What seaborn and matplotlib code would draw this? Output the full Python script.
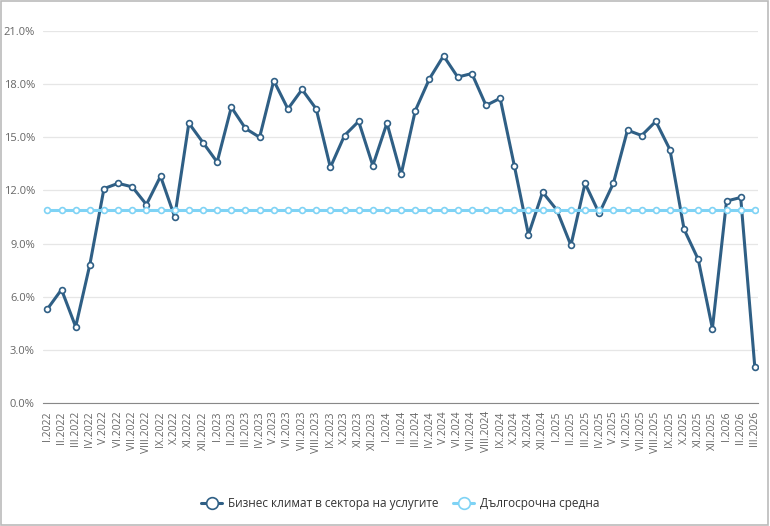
import pandas as pd
import matplotlib.pyplot as plt
import seaborn as sns
from matplotlib.patches import Rectangle

#######################
#
# DATA
#
#######################
MONTHS = ['I', 'II', 'III', 'IV', 'V', 'VI', 'VII', 'VIII', 'IX', 'X', 'XI', 'XII']
YEARS = [2022, 2023, 2024, 2025, 2026]
periods = [f'{m}.{y}' for y in YEARS for m in MONTHS][:51]

services_climate = [5.3, 6.4, 4.3, 7.8, 12.1, 12.4, 12.2, 11.2, 12.8, 10.5, 15.8, 14.7,
                    13.6, 16.7, 15.5, 15.0, 18.2, 16.6, 17.7, 16.6, 13.3, 15.1, 15.9, 13.4,
                    15.8, 12.9, 16.5, 18.3, 19.6, 18.4, 18.6, 16.8, 17.2, 13.4, 9.5, 11.9,
                    10.9, 8.9, 12.4, 10.7, 12.4, 15.4, 15.1, 15.9, 14.3, 9.8, 8.1, 4.2,
                    11.4, 11.6, 2.0]
long_term_avg = [10.9] * len(periods)

SERIES_NAME = 'Бизнес климат в сектора на услугите'
AVG_NAME = 'Дългосрочна средна'
DARK = '#2f5f85'
LIGHT = '#7fd3f5'

#######################
#
# PLOT
#
#######################
sns.set_style('white')
plt.rcParams['font.family'] = ['Open Sans', 'DejaVu Sans']

df = pd.DataFrame({'x': range(len(periods)), 'value': services_climate, 'avg': long_term_avg})

fig = plt.figure(figsize=(7.7, 5.26), dpi=100)
ax = fig.add_axes([0.056, 0.234, 0.928, 0.707])

# dark series first, long term average drawn on top of it
sns.lineplot(data=df, x='x', y='value', ax=ax, color=DARK, linewidth=2.2,
             marker='o', markersize=4.2, markerfacecolor='white',
             markeredgecolor=DARK, markeredgewidth=1.2, label=SERIES_NAME)
sns.lineplot(data=df, x='x', y='avg', ax=ax, color=LIGHT, linewidth=2.2,
             marker='o', markersize=4.2, markerfacecolor='white',
             markeredgecolor=LIGHT, markeredgewidth=1.2, label=AVG_NAME)

ax.set_ylim(0, 21)
ax.set_xlim(-0.3, len(periods) - 0.8)
ax.set_yticks([0, 3, 6, 9, 12, 15, 18, 21])
ax.set_yticklabels([f'{v:.1f}%' for v in [0, 3, 6, 9, 12, 15, 18, 21]], fontsize=8, color='#666666')
ax.set_xticks(range(len(periods)))
ax.set_xticklabels(periods, rotation=90, fontsize=7.5, color='#666666')
ax.tick_params(axis='x', length=4, color='#888888', width=0.8, pad=2)
ax.tick_params(axis='y', length=0, pad=6)
ax.grid(axis='y', color='#e6e6e6', linewidth=0.9)
ax.set_axisbelow(True)
for s in ['top', 'right', 'left']:
    ax.spines[s].set_visible(False)
ax.spines['bottom'].set_color('#888888')
ax.spines['bottom'].set_linewidth(0.8)
ax.set_xlabel('')
ax.set_ylabel('')

ax.legend(loc='center', bbox_to_anchor=(0.5, -0.27),
          ncol=2, frameon=False, fontsize=8.5, handlelength=1.8, markerscale=2.0,
          columnspacing=1.2, handletextpad=0.5, labelcolor='#333333')

fig.patches.append(Rectangle((0.001, 0.001), 0.997, 0.997, transform=fig.transFigure,
                             fill=False, edgecolor='#bbbbbb', linewidth=1.2))

plt.savefig('out.png', dpi=100)
